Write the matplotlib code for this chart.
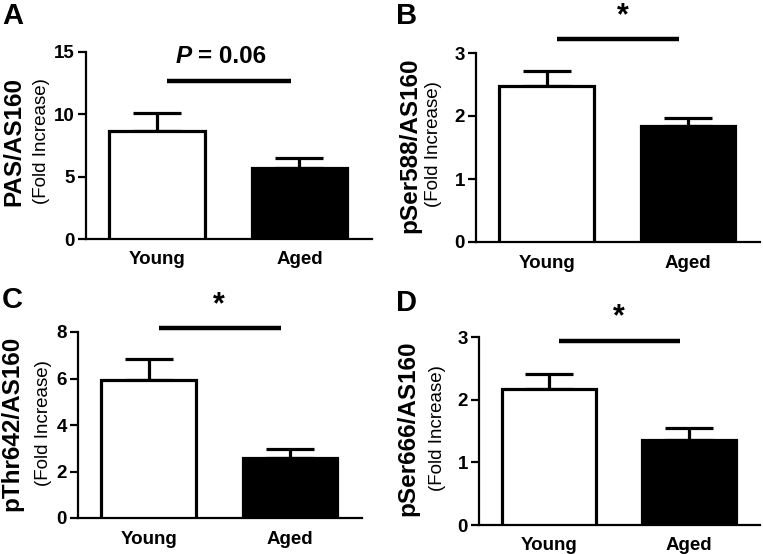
import matplotlib
matplotlib.use("Agg")
import matplotlib.pyplot as plt
import numpy as np

plt.rcParams['font.family'] = ['Liberation Sans', 'DejaVu Sans']

groups = ["Young", "Aged"]

pas_mean = [8.66, 5.69]
pas_sem = [1.44, 0.81]
pser588_mean = [2.48, 1.84]
pser588_sem = [0.23, 0.13]
pthr642_mean = [5.94, 2.58]
pthr642_sem = [0.90, 0.39]
pser666_mean = [2.17, 1.36]
pser666_sem = [0.24, 0.19]

ylabels = ["PAS/AS160", "pSer588/AS160", "pThr642/AS160", "pSer666/AS160"]
yticks_list = [[0, 5, 10, 15], [0, 1, 2, 3], [0, 2, 4, 6, 8], [0, 1, 2, 3]]
sig_heights = [12.67, 3.22, 8.17, 2.94]
sig_labels = ["P = 0.06", "*", "*", "*"]
panel_letters = ["A", "B", "C", "D"]

W, H = 763, 554
fig = plt.figure(figsize=(W / 100, H / 100), dpi=100)

# layout in pixels: (spine x, right end x, bottom y, top y)
layout = [(86, 372, 239, 52), (476, 760, 242, 53), (78, 362, 518, 332), (479, 760, 525, 337)]
label_pos = [((14, 141), (41, 141)), ((410, 145), (433, 144)), ((12, 423), (43, 423)), ((408, 428), (437, 428))]
letter_pos = [(2, 2), (396, 2), (2, 286), (396, 289)]
star_x = [0.49, 0.54, 0.50, 0.50]

means = [pas_mean, pser588_mean, pthr642_mean, pser666_mean]
sems = [pas_sem, pser588_sem, pthr642_sem, pser666_sem]

x = np.arange(len(groups))
for i in range(4):
    sx, ex, by, ty = layout[i]
    ax = fig.add_axes([sx / W, 1 - by / H, (ex - sx) / W, (by - ty) / H])
    ax.bar(x, means[i], width=0.67, color=["white", "black"], edgecolor="black",
           linewidth=2.3, zorder=3)
    ax.errorbar(x, means[i], yerr=[[0, 0], sems[i]], fmt="none", ecolor="black",
                elinewidth=2.3, capsize=17, capthick=2.3, zorder=2)
    ax.set_xlim(-0.5, 1.51)
    yt = yticks_list[i]
    ax.set_ylim(0, yt[-1])
    ax.set_yticks(yt)
    ax.set_yticklabels([str(v) for v in yt], fontsize=13.5, fontweight="bold")
    ax.set_xticks(x)
    ax.set_xticklabels(groups, fontsize=13.5, fontweight="bold")
    ax.tick_params(axis="x", length=0, pad=9)
    ax.tick_params(axis="y", length=6, width=1.6, pad=2)
    for s in ["top", "right"]:
        ax.spines[s].set_visible(False)
    for s in ["left", "bottom"]:
        ax.spines[s].set_linewidth(1.6)
    # significance bar
    ax.plot([0.07, 0.94], [sig_heights[i]] * 2, color="black", lw=3.2,
            solid_capstyle="butt", clip_on=False)
    if i == 0:
        ax.annotate("P", xy=(0.24, sig_heights[i]), xytext=(0, 13),
                    textcoords="offset points", ha="right", va="baseline",
                    fontsize=17.5, fontweight="bold", fontstyle="italic",
                    annotation_clip=False)
        ax.annotate("= 0.06", xy=(0.29, sig_heights[i]), xytext=(0, 13),
                    textcoords="offset points", ha="left", va="baseline",
                    fontsize=17.5, fontweight="bold", annotation_clip=False)
    else:
        ax.annotate(sig_labels[i], xy=(star_x[i], sig_heights[i]), xytext=(0, 11),
                    textcoords="offset points", ha="center", va="baseline",
                    fontsize=22, fontweight="bold", annotation_clip=False)
    (mx, my), (fx, fy) = label_pos[i]
    fig.text(mx / W, 1 - my / H, ylabels[i], rotation=90, ha="center", va="center",
             fontsize=17.5, fontweight="bold")
    fig.text(fx / W, 1 - fy / H, "(Fold Increase)", rotation=90, ha="center",
             va="center", fontsize=13.5)
    lx, ly = letter_pos[i]
    fig.text(lx / W, 1 - ly / H, panel_letters[i], ha="left", va="top",
             fontsize=21, fontweight="bold")

fig.savefig("out.png", dpi=100)
